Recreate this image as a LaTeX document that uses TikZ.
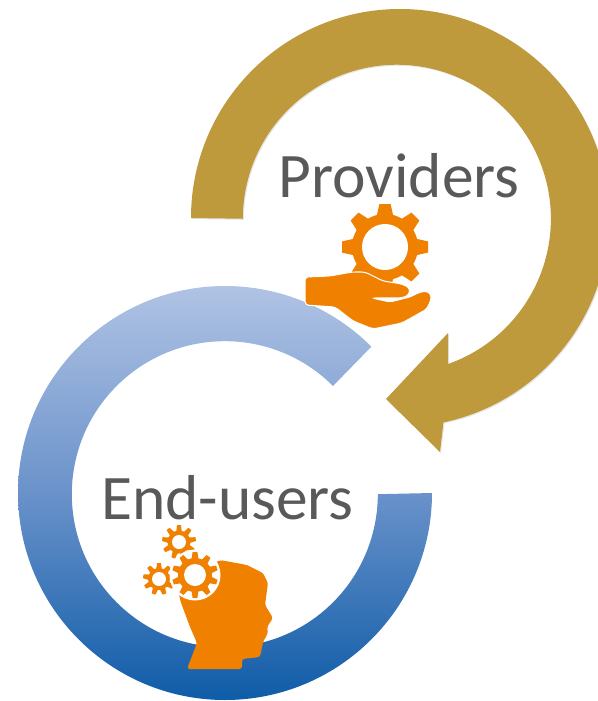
\documentclass[tikz,border=0pt]{standalone}
\usepackage{fontspec}
\setmainfont{Carlito}
\usepackage{tikz}
\usetikzlibrary{shadows}
\definecolor{goldarc}{HTML}{BF9A3C}
\definecolor{orangeicon}{HTML}{F08000}
\definecolor{labelgrey}{HTML}{595959}
\definecolor{bluetop}{HTML}{B0C3E4}
\definecolor{bluemid}{HTML}{6A92CA}
\definecolor{bluebottom}{HTML}{0F5CA8}
\tikzset{
 arclabel/.style={text=labelgrey, font=\fontsize{36.1}{36.1}\selectfont, inner sep=0pt, anchor=base},
 iconfill/.style={fill=orangeicon},
 softshadow/.style={drop shadow={opacity=0.2, shadow xshift=0.6pt, shadow yshift=-0.6pt}}
}
% gear: x, y, outer radius, body radius, hole radius, tooth half width, second angle
\newcommand{\gearicon}[7]{
 \begin{scope}[shift={(#1,#2)}]
  \foreach \a in {0,#7,...,359} {
   \fill[iconfill, rotate=\a-90] (#4-1,-#6*1.15) -- (#3,-#6*0.8) -- (#3,#6*0.8) -- (#4-1,#6*1.15) -- cycle;
  }
  \fill[iconfill] (0,0) circle (#4);
  \fill[white] (0,0) circle (#5);
 \end{scope}
}

\begin{document}
\begin{tikzpicture}[x=1pt, y=1pt, xscale=0.569, yscale=-0.569]
 \useasboundingbox (0,0) rectangle (598,701);
 \clip (0,0) rectangle (598,701);

 \fill[goldarc, softshadow] (191,218) arc (180:438:209)
  -- (440,452) -- (386,399) -- (448,333) -- (448,364)
  arc (70.6:-180:154) -- cycle;

 \shade[top color=bluetop, bottom color=bluebottom, middle color=bluemid]
  (432,493) arc (0:315:207) -- (333,386) arc (315:0:153) -- cycle;

 \fill[iconfill, rounded corners=1.5pt] (187,669) -- (197,643) -- (190,627) -- (180,600) -- (178,585) -- (220,560) -- (247,565) -- (263,573) -- (268,583) -- (265,605) -- (273,618) -- (267,627) -- (268,633) -- (263,642) -- (260,657) -- (242,659) -- (242,669) -- cycle;

 \gearicon{179}{542}{17}{11.5}{7}{2.4}{40}
 \gearicon{159}{579}{16}{11}{7}{2.4}{40}
 \fill[white] (195,575) circle (25.5);
 \gearicon{195}{575}{23}{17}{11}{3}{36}

 \gearicon{385}{247}{43}{33}{23}{7}{45}
 \fill[iconfill, draw=white, line width=0.6pt, rounded corners=2pt] (305,277) -- (330,276) -- (352,272) -- (365,272) -- (383,281) -- (402,284) -- (410,288) -- (409,295) -- (402,298) -- (372,298) -- (390,302) -- (410,297) -- (420,292) -- (428,291) -- (432,297) -- (427,309) -- (402,323) -- (373,329) -- (353,321) -- (335,307) -- (305,305) -- cycle;

 \node[arclabel] (providers) at (399,197) {Providers};
 \node[arclabel] (endusers) at (227.5,519) {End-users};
\end{tikzpicture}
\end{document}
